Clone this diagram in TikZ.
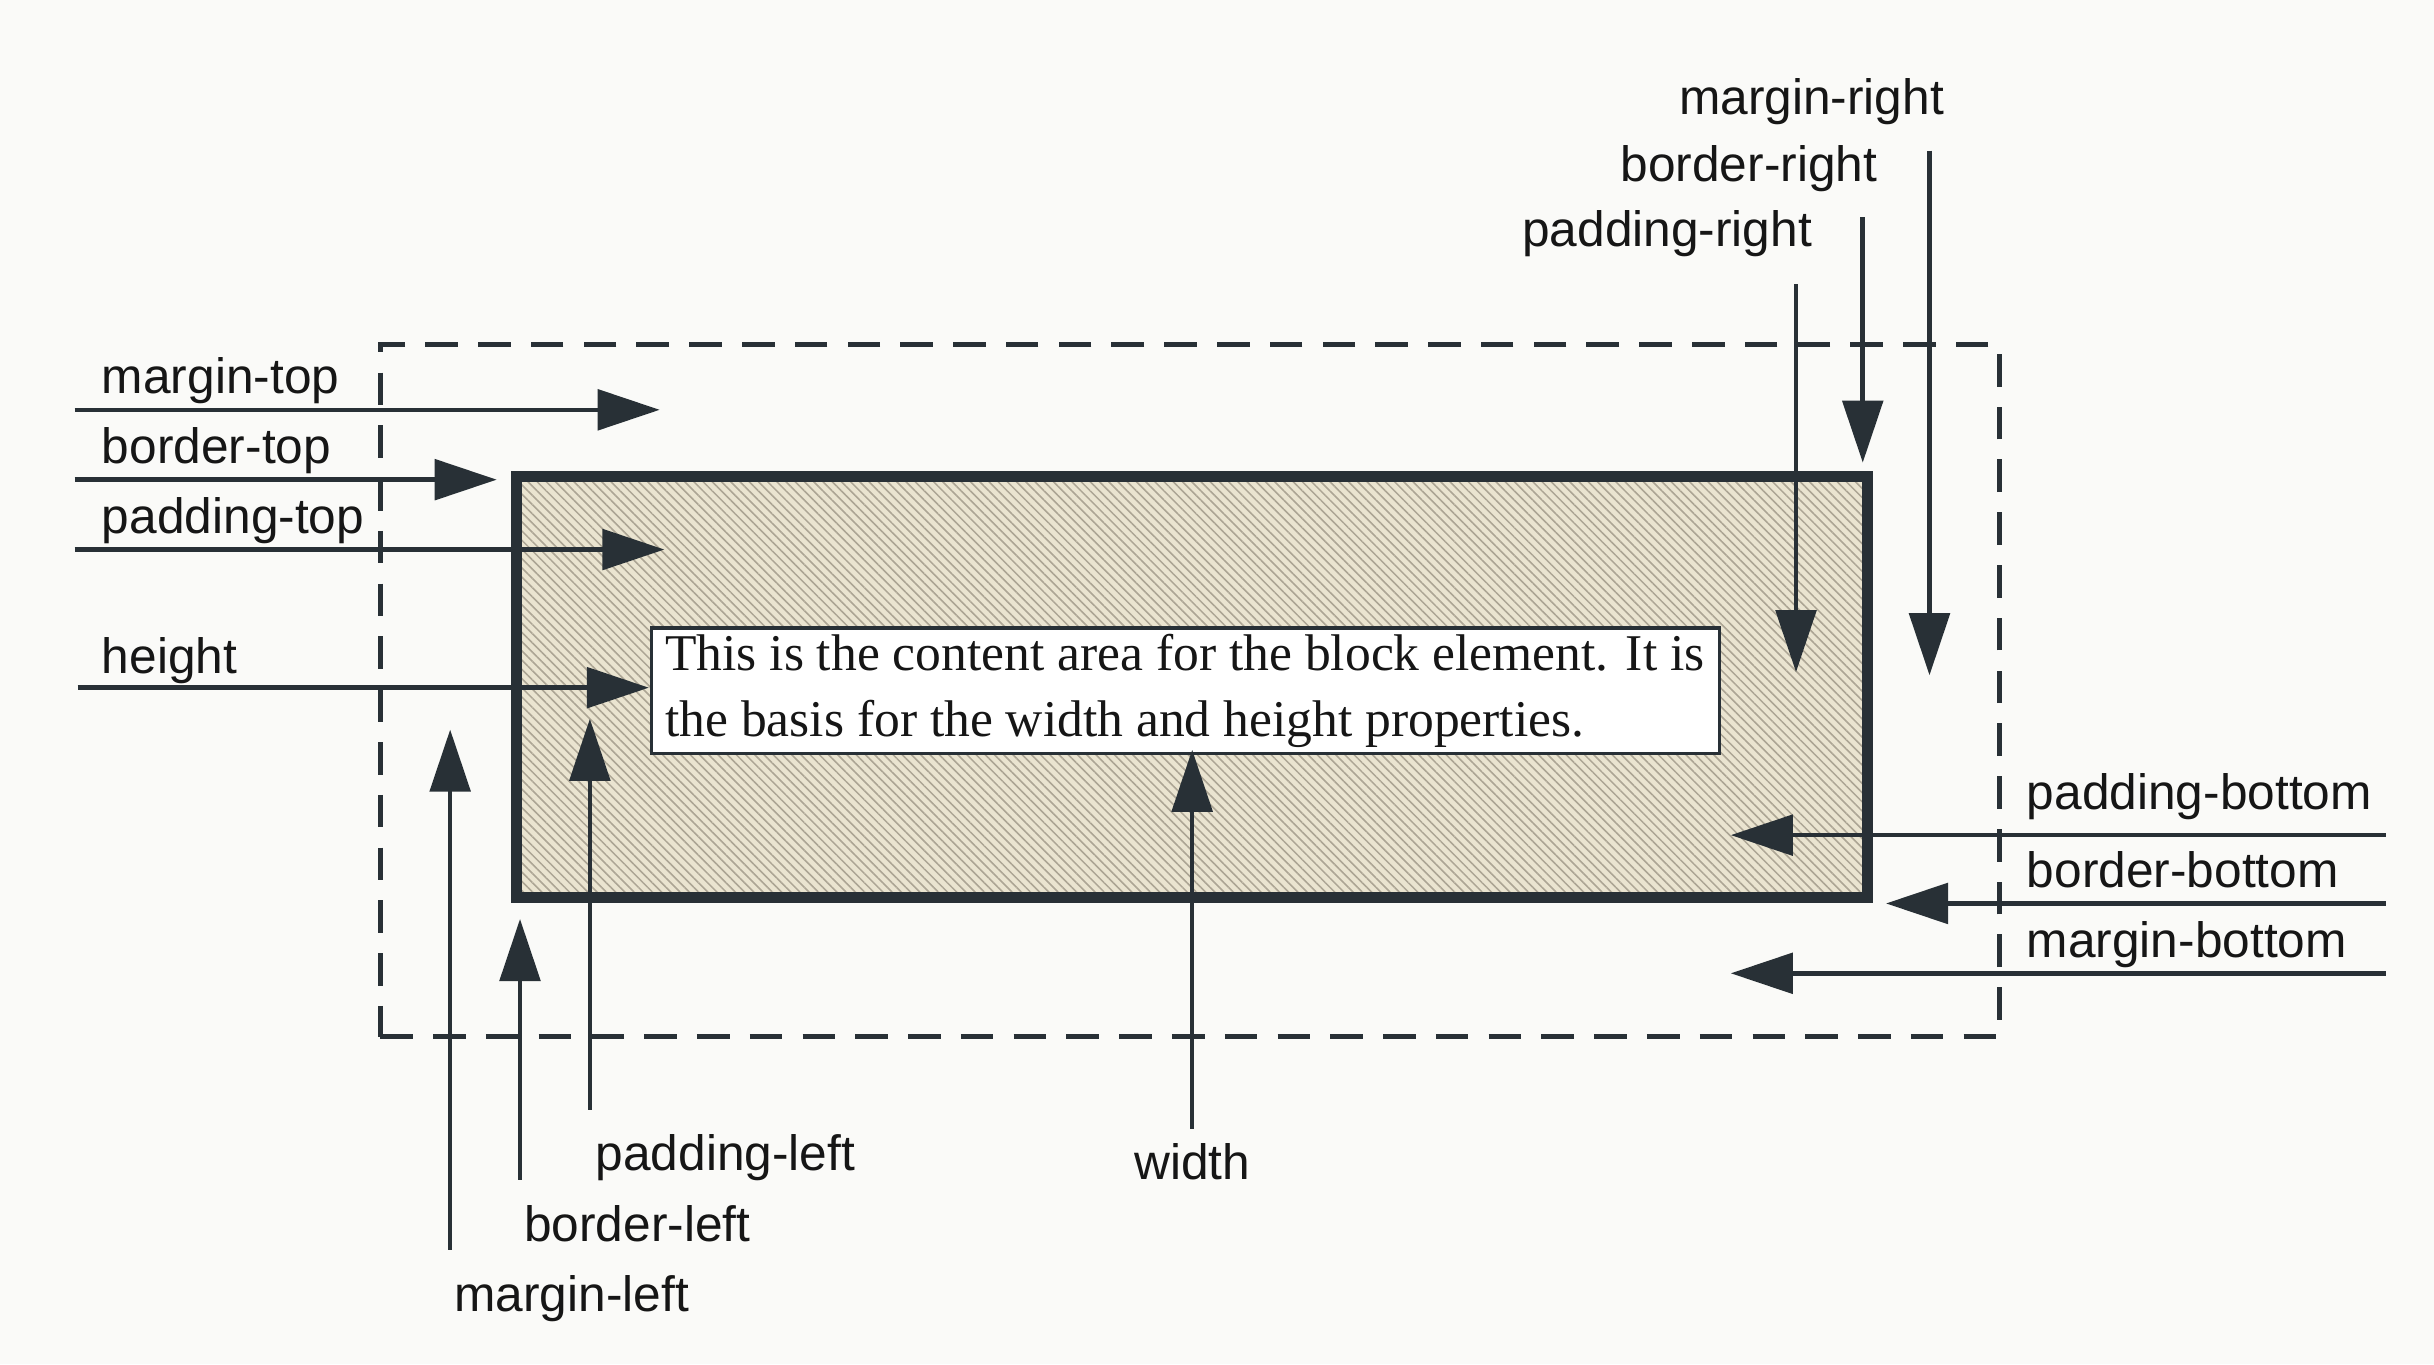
\documentclass[tikz,border=0pt]{standalone}
\usepackage{fontspec}
\setmainfont{Liberation Sans}
\newfontfamily\contentfont{Liberation Serif}
\usetikzlibrary{arrows.meta,patterns.meta}
\definecolor{ink}{RGB}{40,48,54}
\definecolor{labelink}{RGB}{22,22,22}
\definecolor{paper}{RGB}{250,250,248}
\definecolor{shade}{RGB}{234,228,208}
\definecolor{hatch}{RGB}{172,165,148}
\newcommand{\contentline}[1]{\makebox[67mm][l]{#1}}
\begin{document}
\begin{tikzpicture}[x=0.1mm,y=-0.1mm,
  lbl/.style={font=\fontsize{9.1}{10}\selectfont, text=labelink, inner sep=0pt,
              text height=0.72em, text depth=0.22em},
  arr/.style={draw=ink, line width=0.85pt, -{Triangle[length=4mm,width=2.6mm]}},
  marginbox/.style={draw=ink, line width=0.9pt, dash pattern=on 2.1mm off 1.3mm,
              minimum width=104.3mm, minimum height=44.6mm, inner sep=0pt},
  borderbox/.style={draw=ink, line width=2pt, preaction={fill=shade},
              pattern={Lines[angle=-45,distance=0.42mm,line width=0.1mm]}, pattern color=hatch,
              minimum width=87mm, minimum height=27.1mm, inner sep=0pt},
  contentbox/.style={draw=ink, line width=0.6pt, fill=white, inner xsep=0.9mm, inner ysep=0.4mm,
              minimum height=8mm, align=left,
              font=\contentfont\fontsize{9.45}{12}\selectfont, text=labelink}
  ]
\fill[paper] (0,0) rectangle (1568,879);
\useasboundingbox (0,0) rectangle (1568,879);

% boxes
\node[marginbox] (margin) at (766.5,445) {};
\node[borderbox] (border) at (768,442.5) {};
\node[contentbox] (content) at (763.5,445)
  {\contentline{This is the content area for the block element. It is}\\\contentline{the basis for the width and height properties.}};

% left labels
\node[lbl, anchor=west] (lmt) at (65,245) {margin-top};
\node[lbl, anchor=west] (lbt) at (65,290) {border-top};
\node[lbl, anchor=west] (lpt) at (65,335) {padding-top};
\node[lbl, anchor=west] (lh)  at (65,425) {height};
% top-right labels
\node[lbl, anchor=east] (lmr) at (1253,65)  {margin-right};
\node[lbl, anchor=east] (lbr) at (1210,108) {border-right};
\node[lbl, anchor=east] (lpr) at (1168,150) {padding-right};
% bottom-right labels
\node[lbl, anchor=west] (lpb) at (1305,513) {padding-bottom};
\node[lbl, anchor=west] (lbb) at (1305,563) {border-bottom};
\node[lbl, anchor=west] (lmb) at (1305,608) {margin-bottom};
% bottom labels
\node[lbl, anchor=west] (lpl) at (383,745) {padding-left};
\node[lbl, anchor=west] (lbl) at (337,791) {border-left};
\node[lbl, anchor=west] (lml) at (292,836) {margin-left};
\node[lbl] (lw) at (768,751) {width};

% arrow end points
\coordinate (mt0) at (48,264);   \coordinate (mt1) at (425,264);
\coordinate (bt0) at (48,309);   \coordinate (bt1) at (320,309);
\coordinate (pt0) at (48,354);   \coordinate (pt1) at (428,354);
\coordinate (h0)  at (50,443);   \coordinate (h1)  at (418,443);
\coordinate (mr0) at (1243,97);  \coordinate (mr1) at (1243,435);
\coordinate (br0) at (1200,140); \coordinate (br1) at (1200,298);
\coordinate (pr0) at (1157,183); \coordinate (pr1) at (1157,433);
\coordinate (pb0) at (1537,538); \coordinate (pb1) at (1115,538);
\coordinate (bb0) at (1537,582); \coordinate (bb1) at (1215,582);
\coordinate (mb0) at (1537,627); \coordinate (mb1) at (1115,627);
\coordinate (ml0) at (290,805);  \coordinate (ml1) at (290,470);
\coordinate (bl0) at (335,760);  \coordinate (bl1) at (335,592);
\coordinate (pl0) at (380,715);  \coordinate (pl1) at (380,463);
\coordinate (w0)  at (768,727);  \coordinate (w1)  at (768,483);

\foreach \a in {mt,bt,pt,h,mr,br,pr,pb,bb,mb,ml,bl,pl,w}
  \draw[arr] (\a0) -- (\a1);
\end{tikzpicture}
\end{document}
